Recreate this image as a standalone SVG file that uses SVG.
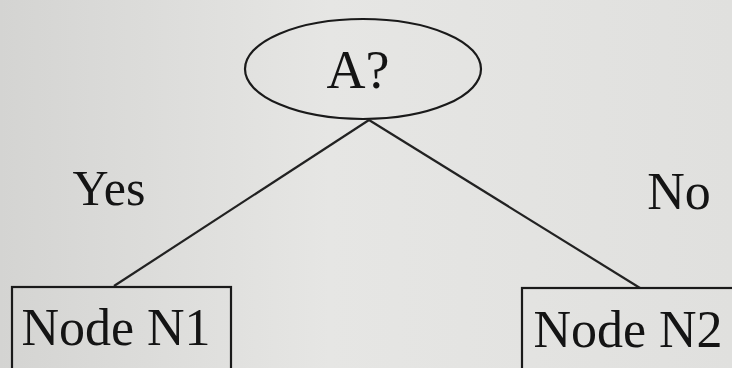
<svg xmlns="http://www.w3.org/2000/svg" width="732" height="368" viewBox="0 0 732 368">
  <defs>
    <linearGradient id="bg" x1="0" y1="0" x2="1" y2="0">
      <stop offset="0" stop-color="#d4d4d2"/>
      <stop offset="0.45" stop-color="#e6e6e4"/>
      <stop offset="1" stop-color="#e0e0de"/>
    </linearGradient>
    <style>
      .shape { fill: none; stroke: #1a1a1a; stroke-width: 2.2; }
      .edge { fill: none; stroke: #222222; stroke-width: 2.2; }
      text { fill: #141414; font-family: 'Liberation Serif', 'Times New Roman', serif; }
    </style>
  </defs>
  <rect x="0" y="0" width="732" height="368" fill="url(#bg)"/>
  <g id="connectors">
    <line class="edge" x1="369" y1="120" x2="114" y2="286"/>
    <line class="edge" x1="369" y1="120" x2="640" y2="288"/>
  </g>
  <g id="nodeA">
    <ellipse class="shape" cx="363" cy="69" rx="118" ry="50"/>
    <text x="358" y="88" text-anchor="middle" font-size="54">A?</text>
  </g>
  <g id="labelYes">
    <text x="109" y="205" text-anchor="middle" font-size="50">Yes</text>
  </g>
  <g id="labelNo">
    <text x="679" y="209" text-anchor="middle" font-size="52">No</text>
  </g>
  <g id="nodeN1">
    <rect class="shape" x="12" y="287" width="219" height="90"/>
    <text x="116" y="345" text-anchor="middle" font-size="52">Node N1</text>
  </g>
  <g id="nodeN2">
    <rect class="shape" x="522" y="288" width="230" height="90"/>
    <text x="628" y="347" text-anchor="middle" font-size="52">Node N2</text>
  </g>
</svg>
